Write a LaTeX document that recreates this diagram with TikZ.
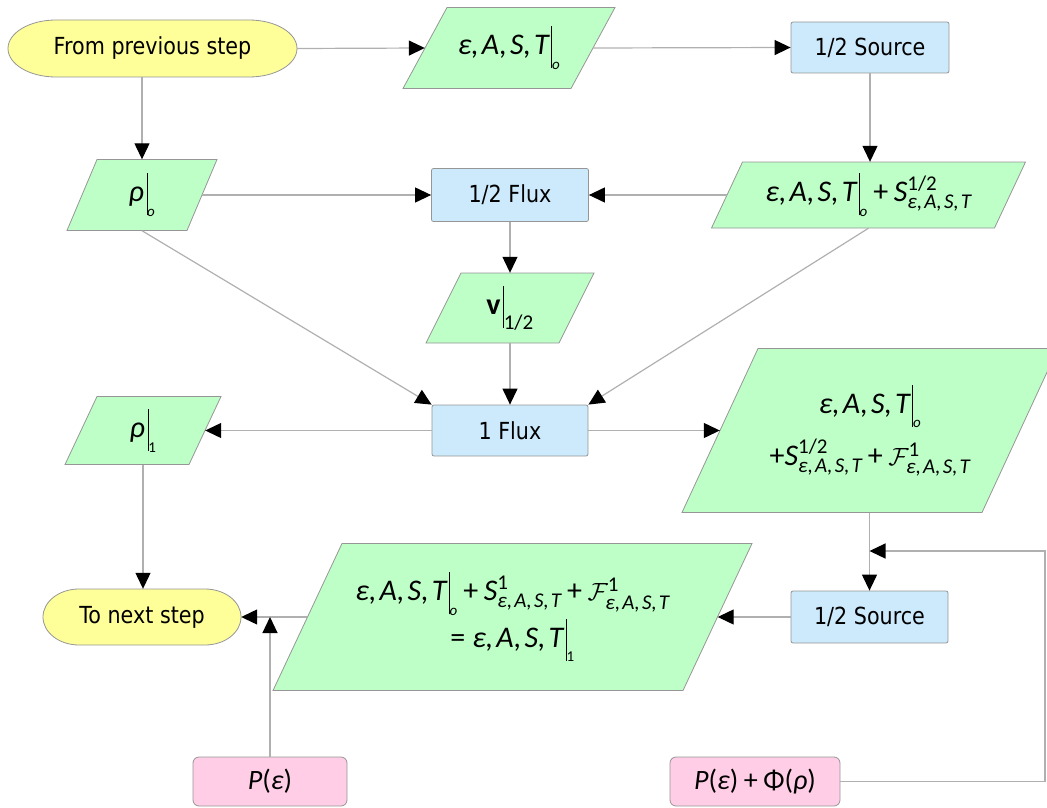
\documentclass[tikz,border=0pt]{standalone}
\usepackage{amsmath}
\usepackage{fontspec}
\setmainfont{DejaVu Sans}[FakeStretch=0.88]
\newfontfamily\mf{Carlito}
\usetikzlibrary{arrows.meta}
\definecolor{termfill}{RGB}{255,255,153}
\definecolor{parafill}{RGB}{190,255,200}
\definecolor{procfill}{RGB}{204,234,252}
\definecolor{inpfill}{RGB}{255,206,230}
\definecolor{linegray}{RGB}{176,176,176}
\definecolor{bordergray}{RGB}{150,150,150}
\newcommand{\mv}[1]{\text{\mf\itshape #1}}
\newcommand{\mr}[1]{\text{\mf #1}}
\newcommand{\evb}[1]{\mspace{2mu}\rule[-0.45em]{0.6pt}{1.4em}_{#1}}
\newcommand{\EAST}{\mv{ε,\hspace{0.1em}A,\hspace{0.1em}S,\hspace{0.1em}T}}
\newcommand{\mplus}{\mathbin{\mr{+}}}
\newcommand{\meq}{\mathrel{\mr{=}}}
\tikzset{
  shapeline/.style={draw=bordergray, line width=0.8pt},
  parashape/.style={shapeline, fill=parafill},
  termshape/.style={shapeline, fill=termfill},
  paratext/.style={inner sep=0pt, align=center, font=\fontsize{30}{42}\selectfont},
  termtext/.style={inner sep=0pt, font=\fontsize{23.5}{28}\selectfont},
  procbox/.style={shapeline, fill=procfill, rounded corners=2pt, inner sep=0pt, font=\fontsize{23.5}{28}\selectfont},
  inpbox/.style={shapeline, fill=inpfill, rounded corners=6pt, inner sep=0pt, font=\fontsize{28}{34}\selectfont},
  conn/.style={draw=linegray, line width=1.2pt, -{Triangle[length=16pt,width=15pt,black]}},
}
% parallelogram: name, cx, cy, edge width, slant, height, text
\newcommand{\para}[7]{%
  \draw[parashape] ({#2-#4/2+#5/2},{#3-#6/2}) -- ({#2+#4/2+#5/2},{#3-#6/2})
     -- ({#2+#4/2-#5/2},{#3+#6/2}) -- ({#2-#4/2-#5/2},{#3+#6/2}) -- cycle;
  \node[paratext, minimum width=#4, minimum height=#6] (#1) at (#2,#3) {#7};
}
% terminal: name, cx, cy, width, height, end x-radius, text
\newcommand{\term}[7]{%
  \draw[termshape] ({#2-#4/2+#6},{#3-#5/2}) -- ({#2+#4/2-#6},{#3-#5/2})
     arc[start angle=-90, end angle=90, x radius=#6, y radius=#5/2]
     -- ({#2-#4/2+#6},{#3+#5/2})
     arc[start angle=90, end angle=270, x radius=#6, y radius=#5/2] -- cycle;
  \node[termtext, minimum width=#4, minimum height=#5] (#1) at (#2,#3) {#7};
}
\newcommand{\so}{\scriptscriptstyle\mv{o}}
\newcommand{\sone}{\scriptscriptstyle\mr{1}}
\begin{document}
\begin{tikzpicture}[x=1pt,y=-1pt]
\useasboundingbox (0,0) rectangle (1047,808);
\clip (0,0) rectangle (1047,808);

\term{from}{152.5}{48.5}{289}{57}{48}{From previous step}
\para{p1}{509}{48}{168}{44}{81}{$\EAST\evb{\so}$}
\node[procbox, minimum width=158, minimum height=51] (src1) at (870,47.5) {1/2 Source};

\para{rho0}{142}{195}{120}{30}{71}{$\mv{ρ}\evb{\so}$}
\node[procbox, minimum width=157, minimum height=53] (fluxh) at (510,195) {1/2 Flux};
\para{pR}{868.5}{195}{283}{31}{66}{$\EAST\evb{\so}\mplus\mv{S}^{\mr{1/2}}_{\EAST}$}

\para{v}{510}{308}{133}{35}{70}{$\text{\mf\bfseries v}\evb{\mr{1/2}}$}

\node[procbox, minimum width=156, minimum height=51] (flux1) at (510,430.5) {1 Flux};
\para{rho1}{143}{430.5}{124}{32}{68}{$\mv{ρ}\evb{\sone}$}
\para{pBig}{870}{430.5}{300}{76}{164}{$\EAST\evb{\so}$\\[10pt] $\mplus\mv{S}^{\mr{1/2}}_{\EAST}\mplus\mathcal{F}^{\mr{1}}_{\EAST}$}

\term{to}{142}{617}{198}{56}{36}{To next step}
\para{pBot}{512.5}{617}{410}{69}{147}{$\EAST\evb{\so}\mplus\mv{S}^{\mr{1}}_{\EAST}\mplus\mathcal{F}^{\mr{1}}_{\EAST}$\\[2pt] $\meq\EAST\evb{\sone}$}
\node[procbox, minimum width=157, minimum height=52] (src2) at (869.5,617) {1/2 Source};

\node[inpbox, minimum width=154, minimum height=49] (Pe) at (270,781.5) {$\mv{P}\mr{(}\mv{ε}\mr{)}$};
\node[inpbox, minimum width=170, minimum height=49] (Pphi) at (755,781.5) {$\mv{P}\mr{(}\mv{ε}\mr{)}\mplus\mr{Φ}\mr{(}\mv{ρ}\mr{)}$};

\coordinate (j1) at (869.5,551);
\coordinate (rc) at (1045,551);
\coordinate (j2) at (270,617);

% connectors
\draw[conn] (from.east) -- (p1.west);
\draw[conn] (p1.east) -- (src1.west);
\draw[conn] (from.south -| rho0.north) -- (rho0.north);
\draw[conn] (src1.south) -- (src1.south |- pR.north);
\draw[conn] (rho0.east) -- (fluxh.west);
\draw[conn] (pR.west) -- (fluxh.east);
\draw[conn] (fluxh.south) -- (v.north);
\draw[conn] (v.south) -- (flux1.north);
\draw[conn] (rho0.south) -- (flux1.north west);
\draw[conn] (pR.south) -- (flux1.north east);
\draw[conn] (flux1.west) -- (rho1.east);
\draw[conn] (flux1.east) -- (pBig.west);
\draw[conn] (rho1.south) -- (rho1.south |- to.north);
\draw[conn] (src2.north |- pBig.south) -- (src2.north);
\draw[conn] (Pphi.east) -| (rc) -- (j1);
\draw[conn] (src2.west) -- (pBot.east);
\draw[conn] (pBot.west) -- (to.east);
\draw[conn] (Pe.north) -- (j2);
\end{tikzpicture}
\end{document}
